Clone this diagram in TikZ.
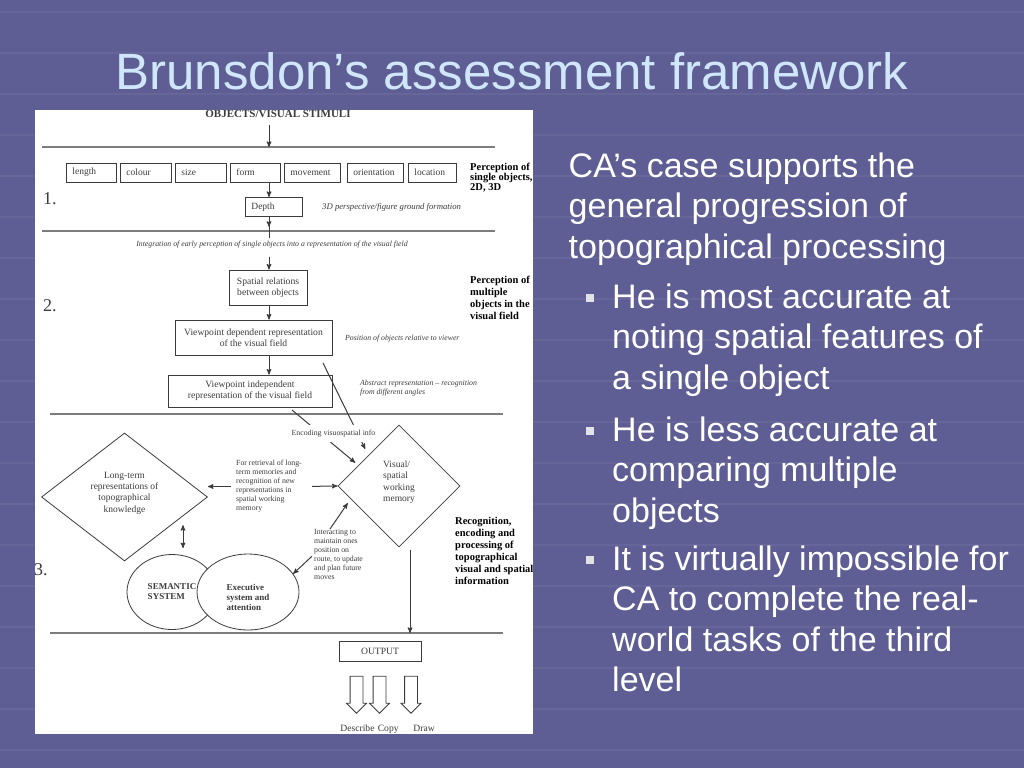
\documentclass[tikz,border=0pt]{standalone}
\usepackage{fontspec}
\setmainfont{Liberation Serif}
\newfontfamily\slidefont{Liberation Sans}
\usetikzlibrary{arrows,positioning,shapes.geometric,shapes.arrows}
\definecolor{slidebg}{RGB}{94,94,148}
\definecolor{titleblue}{RGB}{208,230,250}
\definecolor{ink}{RGB}{60,60,60}
\definecolor{rulegray}{RGB}{125,125,125}
\definecolor{bulletgray}{RGB}{225,225,232}
\tikzset{
    %Define standard arrow tip
    >=stealth',
    featbox/.style={
      rectangle,
      draw=ink, line width=0.8pt,
      minimum height=19pt,
      inner xsep=6pt, inner ysep=0pt,
      align=left, text=ink,
      font=\fontsize{9.5}{11}\selectfont},
    stagebox/.style={
      rectangle,
      draw=ink, line width=0.8pt,
      inner sep=0pt,
      align=center, text=ink,
      font=\fontsize{9.6}{11}\selectfont},
    memdiamond/.style={
      diamond,
      draw=ink, line width=0.8pt,
      inner sep=0pt, text depth=10pt,
      text=ink,
      font=\fontsize{9.5}{11.4}\selectfont},
    sysellipse/.style={
      ellipse,
      draw=ink, line width=0.8pt, fill=white,
      inner sep=0pt, align=left, text=ink,
      font=\bfseries\fontsize{9}{10}\selectfont},
    note/.style={font=\itshape\fontsize{7.8}{8.5}\selectfont, text=ink, inner sep=0pt},
    smallnote/.style={font=\fontsize{7.8}{9}\selectfont, text=ink, align=left, inner sep=0pt},
    levelname/.style={font=\bfseries\fontsize{10.5}{12}\selectfont, text=black, align=left, anchor=north west, inner sep=0pt},
    levelnum/.style={font=\fontsize{18}{18}\selectfont, text=ink, anchor=base west, inner sep=0pt},
    divider/.style={draw=rulegray, line width=1.5pt},
    flow/.style={->, draw=ink, line width=1pt},
    hollowarrow/.style={
      single arrow, draw=ink, fill=white, line width=0.8pt,
      shape border rotate=270,
      minimum height=37pt, inner sep=6pt,
      single arrow head extend=3.5pt},
    bodytext/.style={font=\slidefont\fontsize{34}{40.5}\selectfont, text=white, align=left, anchor=north west, inner sep=0pt},
    bulletsq/.style={rectangle, fill=bulletgray, minimum size=8pt, inner sep=0pt}
}
\begin{document}
\begin{tikzpicture}[x=1pt,y=-1pt]
\useasboundingbox (0,0) rectangle (1024,768);
\fill[slidebg] (0,0) rectangle (1024,768);
% faint stripes of the slide background
\foreach \yy in {12,53,...,760}
  \draw[white, opacity=0.05, line width=1.5pt] (0,\yy) -- (1024,\yy);

\node[font=\slidefont\fontsize{51}{51}\selectfont, text=titleblue, anchor=base, inner sep=0pt] (title) at (512,89) {Brunsdon’s assessment framework};

% the scanned framework
\fill[white] (35,110) rectangle (533,734);
\begin{scope}
\clip (35,110) rectangle (533,734);
\coordinate (axis) at (269,0);
\coordinate (d1w) at (42,147);  \coordinate (d1e) at (495,147);
\coordinate (d2w) at (42,231);  \coordinate (d2e) at (495,231);
\coordinate (d3w) at (50,414);  \coordinate (d3e) at (503,414);
\coordinate (d4w) at (50,633);  \coordinate (d4e) at (503,633);
\foreach \a/\b in {d1w/d1e,d2w/d2e,d3w/d3e,d4w/d4e}
  \draw[divider] (\a) -- (\b);

\node[font=\bfseries\fontsize{11}{11}\selectfont, text=ink, anchor=base, inner sep=0pt] (stim) at (278,117) {OBJECTS/VISUAL STIMULI};
\draw[flow, shorten <=8pt] (axis |- stim.south) -- (axis |- d1w);

% level 1
\foreach \lab/\xl/\xr in {length/66/116, colour/120/171, size/175/226, form/230/280, movement/284/340, orientation/347/403, location/408/456}{
  \pgfmathsetmacro\bw{\xr-\xl-12}
  \node[featbox, text width=\bw pt, anchor=west] (f-\lab) at (\xl,172.5) {\lab};
}
\node[featbox, text width=45pt, anchor=north west] (depth) at (245,197) {Depth};
\node[note, font=\itshape\fontsize{8.7}{9}\selectfont, anchor=west] (persp) at (322,207) {3D perspective/figure ground formation};
\draw[flow] (axis |- f-form.south) -- (axis |- depth.north);
\draw[flow] (axis |- depth.south) -- ++(0,10);
\draw[ink, line width=1pt] (axis |- depth.south) -- ++(0,21);
\node[levelnum] (n1) at (43,204) {1.};
\node[levelname, font=\bfseries\fontsize{10.5}{10.2}\selectfont] (lvl1) at (470,163) {Perception of\\single objects,\\2D, 3D};

\node[note] (integ) at (272,245) {Integration of early perception of single objects into a representation of the visual field};

% level 2
\node[stagebox, minimum width=78pt, minimum height=35pt] (spatial) at (268,287.5) {Spatial relations\\between objects};
\node[stagebox, minimum width=157pt, minimum height=35pt] (vdep) at (253.5,337.5) {Viewpoint dependent representation\\of the visual field};
\node[stagebox, minimum width=164pt, minimum height=32pt] (vind) at (250,391) {Viewpoint independent\\representation of the visual field};
\draw[flow, shorten <=8pt] (axis |- integ.south) -- (axis |- spatial.north);
\draw[flow] (axis |- spatial.south) -- (axis |- vdep.north);
\draw[flow] (axis |- vdep.south) -- (axis |- vind.north);
\node[note, anchor=west] (relview) at (345,339) {Position of objects relative to viewer};
\node[note, anchor=north west, align=left] (abstract) at (360,380) {Abstract representation – recognition\\from different angles};
\node[levelnum] (n2) at (43,311) {2.};
\node[levelname] (lvl2) at (470,276) {Perception of\\multiple\\objects in the\\visual field};

% level 3
\node[memdiamond, minimum width=122pt, minimum height=122pt, align=left] (vswm) at (399,486) {Visual/\\spatial\\working\\memory};
\node[memdiamond, minimum width=166pt, minimum height=128pt, align=center] (ltm) at (124.5,497) {Long-term\\representations of\\topographical\\knowledge};
\coordinate (vdfoot) at (323,363);
\coordinate (vifoot) at (292,410);
\draw[flow, shorten >=7pt] (vdfoot) -- (vswm.north west);
\draw[flow, shorten >=4pt] (vifoot) -- (vswm.153);
\node[smallnote, fill=white, inner xsep=2pt, inner ysep=4.5pt] (encode) at (333.5,433.5) {Encoding visuospatial info};

\node[smallnote, anchor=west] (retr) at (236,486.5) {For retrieval of long-\\term memories and\\recognition of new\\representations in\\spatial working\\memory};
\draw[flow, shorten <=5pt] (retr.west) -- (retr.west -| ltm.east);
\draw[flow, shorten <=10pt] (retr.east) -- (vswm.west);

\node[sysellipse, minimum width=90pt, minimum height=75pt] (sem) at (172,592) {SEMANTIC\\SYSTEM};
\node[sysellipse, minimum width=102pt, minimum height=76pt, text height=38pt] (exec) at (248,592) {Executive\\system and\\attention};
\draw[flow, <->] ([xshift=11pt,yshift=6pt]sem.north) -- ++(0,-23);

\node[smallnote, anchor=north west] (inter) at (314,529) {Interacting to\\maintain ones\\position on\\route, to update\\and plan future\\moves};
\draw[flow, shorten >=5pt] ([xshift=16pt]inter.north west) -- (vswm.195);
\draw[flow, shorten <=3pt] (inter.west) -- (exec.22);
\draw[flow] ([xshift=11pt,yshift=-3pt]vswm.south) -- ([xshift=11pt]vswm.south |- d4w);

\node[levelnum] (n3) at (34,575) {3.};
\node[levelname] (lvl3) at (455,517) {Recognition,\\encoding and\\processing of\\topographical\\visual and spatial\\information};

% output
\node[stagebox, minimum width=82pt, minimum height=20pt] (output) at (380,651) {OUTPUT};
\node[hollowarrow] (a-describe) at (356.5,691.5) {};
\node[hollowarrow] (a-copy) at (379.5,691.5) {};
\node[hollowarrow] (a-draw) at (411,691.5) {};
\node[stagebox, draw=none, anchor=base west] (l-describe) at (340,731) {Describe};
\node[stagebox, draw=none, base right=2.5pt of l-describe] (l-copy) {Copy};
\node[stagebox, draw=none, base right=14pt of l-copy] (l-draw) {Draw};
\end{scope}

% slide text
\node[bodytext] (para) at (568.5,152.5) {CA’s case supports the\\general progression of\\topographical processing};
\node[bulletsq] (b1) at (590,298) {};
\node[bodytext] (item1) at (612,283.5) {He is most accurate at\\noting spatial features of\\a single object};
\node[bulletsq] (b2) at (590,431) {};
\node[bodytext] (item2) at (612,416.5) {He is less accurate at\\comparing multiple\\objects};
\node[bulletsq] (b3) at (590,560) {};
\node[bodytext] (item3) at (612,545.5) {It is virtually impossible for\\CA to complete the real-\\world tasks of the third\\level};
\end{tikzpicture}
\end{document}
